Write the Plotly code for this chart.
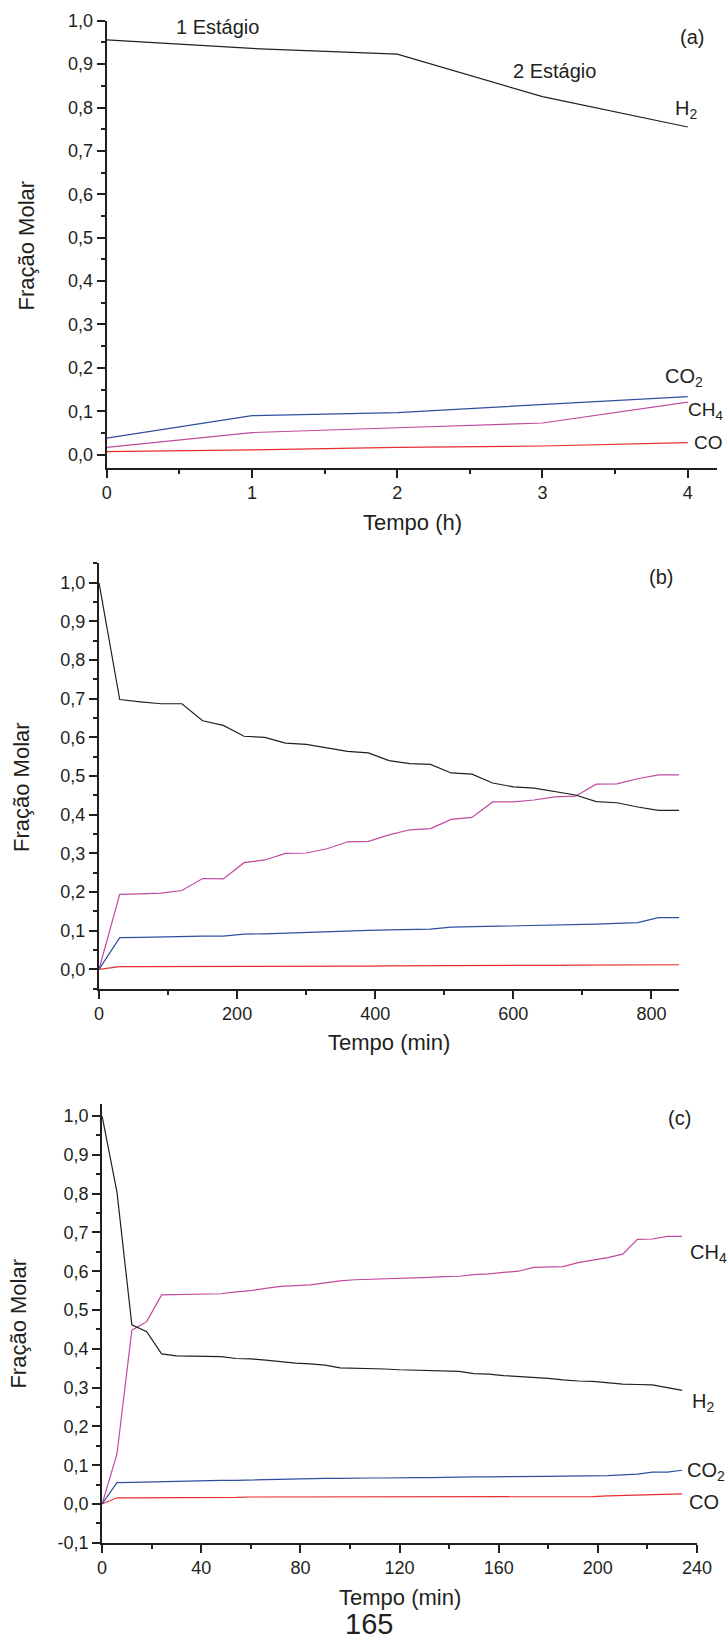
from plotly.subplots import make_subplots
import plotly.graph_objects as go

W, H = 728, 1645
FONT = "Liberation Sans, Arial, sans-serif"
INK = "#231f20"
COLORS = {"H2": "#231f20", "CO2": "#2e4e9e", "CH4": "#c2499f", "CO": "#e62e2e"}

# (a) Tempo (h)
tempo_a = [0, 1, 2, 3, 4]
h2_a = [0.956, 0.936, 0.923, 0.825, 0.755]
co2_a = [0.038, 0.090, 0.097, 0.116, 0.134]
ch4_a = [0.017, 0.051, 0.062, 0.073, 0.121]
co_a = [0.007, 0.011, 0.017, 0.020, 0.028]

# (b) Tempo (min)
tempo_b = [0, 30, 60, 90, 120, 150, 180, 210, 240, 270, 300, 330, 360, 390, 420,
           450, 480, 510, 540, 570, 600, 630, 660, 690, 720, 750, 780, 810, 840]
h2_b = [1.0, 0.698, 0.692, 0.687, 0.687, 0.643, 0.631, 0.603, 0.600, 0.585, 0.582,
        0.572, 0.564, 0.560, 0.540, 0.532, 0.530, 0.508, 0.505, 0.482, 0.472, 0.469,
        0.459, 0.451, 0.434, 0.431, 0.420, 0.411, 0.411]
ch4_b = [0.0, 0.194, 0.195, 0.197, 0.204, 0.235, 0.234, 0.276, 0.283, 0.300, 0.301,
         0.312, 0.330, 0.331, 0.348, 0.361, 0.364, 0.388, 0.393, 0.433, 0.433, 0.438,
         0.446, 0.448, 0.479, 0.480, 0.493, 0.503, 0.503]
co2_b = [0.0, 0.082, 0.083, 0.084, 0.086, 0.086, 0.086, 0.091, 0.092, 0.094, 0.096,
         0.097, 0.100, 0.101, 0.102, 0.103, 0.104, 0.109, 0.110, 0.112, 0.113, 0.113,
         0.114, 0.115, 0.117, 0.119, 0.121, 0.134, 0.134]
co_b = [0.0, 0.007, 0.007, 0.007, 0.0075, 0.0075, 0.0075, 0.0078, 0.008, 0.008, 0.008,
        0.0085, 0.0085, 0.0085, 0.009, 0.009, 0.009, 0.009, 0.0095, 0.0095, 0.010, 0.010,
        0.0105, 0.011, 0.011, 0.011, 0.0115, 0.012, 0.012]

# (c) Tempo (min)
tempo_c = [0, 6, 12, 18, 24, 30, 36, 42, 48, 54, 60, 66, 72, 78, 84, 90, 96, 102, 108,
           114, 120, 126, 132, 138, 144, 150, 156, 162, 168, 174, 180, 186, 192, 198,
           204, 210, 216, 222, 228, 234]
h2_c = [1.0, 0.804, 0.462, 0.444, 0.387, 0.382, 0.381, 0.381, 0.380, 0.375, 0.374,
        0.371, 0.367, 0.363, 0.361, 0.358, 0.351, 0.350, 0.350, 0.348, 0.346, 0.345,
        0.344, 0.343, 0.342, 0.336, 0.335, 0.331, 0.329, 0.327, 0.324, 0.320, 0.317,
        0.316, 0.312, 0.309, 0.308, 0.307, 0.300, 0.293]
ch4_c = [0.0, 0.129, 0.448, 0.470, 0.539, 0.540, 0.541, 0.541, 0.542, 0.547, 0.550,
         0.556, 0.561, 0.563, 0.565, 0.570, 0.575, 0.578, 0.579, 0.581, 0.582, 0.582,
         0.584, 0.586, 0.587, 0.591, 0.593, 0.597, 0.600, 0.610, 0.611, 0.612, 0.622,
         0.628, 0.635, 0.644, 0.682, 0.683, 0.690, 0.690]
co2_c = [0.0, 0.055, 0.056, 0.057, 0.058, 0.059, 0.060, 0.060, 0.061, 0.061, 0.062,
         0.062, 0.063, 0.065, 0.065, 0.066, 0.066, 0.067, 0.067, 0.067, 0.068, 0.068,
         0.068, 0.069, 0.069, 0.070, 0.070, 0.070, 0.070, 0.071, 0.071, 0.072, 0.072,
         0.073, 0.073, 0.075, 0.077, 0.082, 0.082, 0.087]
co_c = [0.0, 0.016, 0.016, 0.016, 0.017, 0.017, 0.017, 0.017, 0.017, 0.017, 0.018,
        0.018, 0.018, 0.018, 0.018, 0.018, 0.018, 0.018, 0.018, 0.018, 0.018, 0.018,
        0.018, 0.018, 0.019, 0.019, 0.019, 0.019, 0.019, 0.019, 0.019, 0.019, 0.019,
        0.019, 0.021, 0.022, 0.023, 0.023, 0.024, 0.026]

y_ticks_ab = [0.0, 0.1, 0.2, 0.3, 0.4, 0.5, 0.6, 0.7, 0.8, 0.9, 1.0]
y_ticks_c = [-0.1] + y_ticks_ab


def comma(vals):
    return [f"{v:.1f}".replace(".", ",") for v in vals]


panels = [
    (tempo_a, {"H2": h2_a, "CO2": co2_a, "CH4": ch4_a, "CO": co_a}),
    (tempo_b, {"H2": h2_b, "CH4": ch4_b, "CO2": co2_b, "CO": co_b}),
    (tempo_c, {"H2": h2_c, "CH4": ch4_c, "CO2": co2_c, "CO": co_c}),
]

fig = make_subplots(rows=3, cols=1)

for n, (tx, series) in enumerate(panels):
    for name in ["CO", "CH4", "CO2", "H2"]:
        fig.add_trace(
            go.Scatter(
                x=tx,
                y=series[name],
                mode="lines",
                line=dict(color=COLORS[name], width=1.2),
                name=name,
                showlegend=False,
                cliponaxis=False,
                hoverinfo="skip",
            ),
            row=n + 1,
            col=1,
        )

axis_common = dict(
    showline=True,
    linecolor=INK,
    linewidth=2,
    ticks="outside",
    ticklen=8,
    tickwidth=2,
    tickcolor=INK,
    showgrid=False,
    zeroline=False,
    automargin=False,
    fixedrange=True,
    tickfont=dict(family=FONT, size=18, color=INK),
)

# domains in pixels (left, right) / (top, bottom)
x_dom = [(106.7, 716.8), (99.0, 679.1), (102.1, 697.0)]
y_dom = [(20.7, 467.7), (563.4, 988.7), (1104.4, 1542.8)]
x_rng = [[0, 4.2], [0, 840], [0, 240]]
y_rng = [[-0.03, 1.0], [-0.05, 1.05], [-0.1, 1.03]]
x_dt = [(1, 0.5), (200, 100), (40, 20)]
y_tv = [y_ticks_ab, y_ticks_ab, y_ticks_c]

for n in range(3):
    sfx = "" if n == 0 else str(n + 1)
    fig.layout["xaxis" + sfx].update(
        domain=[x_dom[n][0] / W, x_dom[n][1] / W],
        range=x_rng[n],
        tickmode="linear",
        tick0=0,
        dtick=x_dt[n][0],
        minor=dict(ticks="outside", ticklen=4, tickwidth=2, tickcolor=INK,
                   tick0=0, dtick=x_dt[n][1]),
        **axis_common,
    )
    fig.layout["yaxis" + sfx].update(
        domain=[1 - y_dom[n][1] / H, 1 - y_dom[n][0] / H],
        range=y_rng[n],
        tickmode="array",
        tickvals=y_tv[n],
        ticktext=comma(y_tv[n]),
        minor=dict(ticks="outside", ticklen=4, tickwidth=2, tickcolor=INK,
                   tickmode="linear", tick0=0, dtick=0.05),
        **axis_common,
    )

ann = []


def txt(text, x, y, xref, yref, size=20, xanchor="center", yanchor="middle", angle=0):
    ann.append(dict(text=text, x=x, y=y, xref=xref, yref=yref, showarrow=False,
                    xanchor=xanchor, yanchor=yanchor, textangle=angle,
                    font=dict(family=FONT, size=size, color=INK)))


# panel (a)
txt("1 Estágio", 0.76, 0.986, "x", "y")
txt("2 Estágio", 3.08, 0.885, "x", "y")
txt("(a)", 4.03, 0.962, "x", "y")
txt("H<sub>2</sub>", 3.90, 0.795, "x", "y", xanchor="left")
txt("CO<sub>2</sub>", 3.83, 0.177, "x", "y", xanchor="left")
txt("CH<sub>4</sub>", 3.99, 0.101, "x", "y", size=19, xanchor="left")
txt("CO", 4.03, 0.028, "x", "y", size=19, xanchor="left")

# panel (b)
txt("(b)", 814, 1.014, "x2", "y2")
txt("CH<sub>4</sub>", 848, 0.500, "x2", "y2", xanchor="left")
txt("H<sub>2</sub>", 850, 0.376, "x2", "y2", xanchor="left")
txt("CO<sub>2</sub>", 848, 0.119, "x2", "y2", xanchor="left")
txt("CO", 850, 0.007, "x2", "y2", xanchor="left")

# panel (c)
txt("(c)", 233, 0.996, "x3", "y3")
txt("CH<sub>4</sub>", 236.2, 0.646, "x3", "y3", xanchor="left")
txt("H<sub>2</sub>", 237.2, 0.262, "x3", "y3", xanchor="left")
txt("CO<sub>2</sub>", 235.1, 0.083, "x3", "y3", xanchor="left")
txt("CO", 235.9, 0.006, "x3", "y3", xanchor="left")

# axis titles and page number
txt("Tempo (h)", 412 / W, 1 - 522.7 / H, "paper", "paper", size=22)
txt("Tempo (min)", 389 / W, 1 - 1042 / H, "paper", "paper", size=22)
txt("Tempo (min)", 400 / W, 1 - 1597 / H, "paper", "paper", size=22)
txt("Fração Molar", 25.5 / W, 1 - 246 / H, "paper", "paper", size=22, angle=-90)
txt("Fração Molar", 21 / W, 1 - 787 / H, "paper", "paper", size=22, angle=-90)
txt("Fração Molar", 17.6 / W, 1 - 1324 / H, "paper", "paper", size=22, angle=-90)
txt("165", 369 / W, 1 - 1624 / H, "paper", "paper", size=29)

fig.update_layout(
    width=W,
    height=H,
    margin=dict(l=0, r=0, t=0, b=0, autoexpand=False),
    paper_bgcolor="white",
    plot_bgcolor="white",
    showlegend=False,
    hovermode=False,
    annotations=ann,
    font=dict(family=FONT, color=INK),
)

fig.write_html(
    "out.html",
    config={"displayModeBar": False, "staticPlot": True},
    post_script="document.body.style.margin = '0';",
)
